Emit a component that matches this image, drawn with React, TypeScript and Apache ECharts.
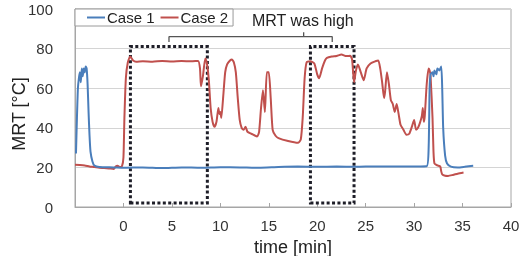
import React, { useEffect, useRef } from "react";
import * as echarts from "echarts";

const seriesNames = ["Case 1", "Case 2"];
const xTicks = [-5, 0, 5, 10, 15, 20, 25, 30, 35, 40];
const yTicks = [0, 20, 40, 60, 80, 100];

// [time (min), MRT (°C)]
const case1Points: [number, number][] = [
  [-4.9, 27], [-4.8, 45], [-4.7, 60], [-4.6, 65], [-4.5, 68], [-4.4, 63], [-4.3, 70],
  [-4.2, 66], [-4.1, 70], [-4.0, 68], [-3.9, 71], [-3.8, 70], [-3.7, 62], [-3.6, 48],
  [-3.5, 36], [-3.4, 28], [-3.2, 23], [-3.0, 21], [-2.5, 20.2], [-1, 20], [0, 19.8],
  [2, 20], [4, 19.7], [6, 20], [8, 19.8], [10, 20.1], [12, 20], [14, 19.8], [16, 20.2],
  [18, 20.4], [20, 20.3], [22, 20.4], [24, 20.3], [26, 20.5], [28, 20.4], [30, 20.5],
  [31.3, 20.6], [31.5, 30], [31.6, 60], [31.7, 67], [31.9, 68], [32.0, 66], [32.1, 69],
  [32.3, 67], [32.4, 70], [32.6, 69], [32.8, 71], [32.9, 60], [33.0, 40], [33.2, 26],
  [33.4, 22], [33.8, 20.4], [34.5, 20], [35.2, 20.3], [36.1, 20.8],
];

const case2Points: [number, number][] = [
  [-5, 21.3], [-4.5, 21.2], [-4, 21], [-3.5, 20.5], [-3, 20.2], [-2.5, 19.8], [-2, 19.7],
  [-1.5, 19.5], [-1.0, 19.2], [-0.8, 20.5], [-0.6, 20.8], [-0.4, 20.2], [-0.15, 20.6],
  [0.0, 25], [0.1, 45], [0.25, 65], [0.45, 73], [0.7, 76], [1.0, 74], [1.3, 73.4],
  [2, 73.6], [3, 73.4], [4, 73.8], [5, 73.5], [6, 73.7], [7, 73.6], [7.7, 73.8],
  [7.9, 70], [8.0, 61], [8.2, 66], [8.45, 75], [8.6, 73], [8.8, 65], [9.0, 50], [9.2, 43],
  [9.4, 40.5], [9.6, 43], [9.8, 50], [9.9, 47], [10.0, 48], [10.1, 45], [10.3, 56],
  [10.5, 68], [10.7, 72], [11.0, 74], [11.2, 74.5], [11.4, 73], [11.6, 68], [11.8, 55],
  [12.0, 44], [12.2, 40], [12.4, 39], [12.6, 40.5], [12.8, 38], [13.2, 37], [13.8, 35.6],
  [14.0, 38], [14.2, 50], [14.4, 59], [14.6, 48], [14.8, 68], [15.0, 68], [15.2, 55],
  [15.4, 39], [15.7, 36], [16.0, 34.8], [17.0, 33.3], [18.0, 32.4], [18.3, 34], [18.5, 45],
  [18.7, 65], [18.9, 73], [19.3, 73.6], [19.7, 72.5], [20.0, 67], [20.2, 65], [20.5, 70],
  [20.8, 74], [21.0, 75.3], [21.5, 76], [22.0, 76.3], [22.5, 77], [23.0, 76.2], [23.4, 76.4],
  [23.6, 74.5], [23.8, 63], [24.0, 69], [24.2, 72], [24.5, 68], [24.8, 64], [25.1, 70],
  [25.5, 72.5], [26.0, 73.6], [26.3, 74], [26.5, 70], [26.7, 63], [26.9, 55], [27.0, 58],
  [27.2, 68], [27.4, 62], [27.6, 54], [27.8, 52], [28.0, 48], [28.2, 52], [28.4, 47],
  [28.6, 41.5], [28.9, 39], [29.2, 36.5], [29.5, 37], [29.8, 41], [30.0, 44], [30.2, 39],
  [30.4, 40], [30.6, 42.5], [30.8, 46], [30.9, 50], [31.0, 43], [31.1, 46], [31.3, 62],
  [31.5, 70], [31.6, 69], [31.7, 66], [31.9, 45], [32.0, 28], [32.1, 22], [32.4, 21],
  [32.7, 20.4], [32.8, 18], [32.9, 16.5], [33.2, 15.8], [33.5, 15.7], [34.0, 16.2],
  [34.5, 16.8], [35.1, 17.4],
];

// highlighted periods: [startTime, endTime, lowMRT, highMRT]
const highlightSpans: [number, number, number, number][] = [
  [0.72, 8.66, 2, 81],
  [19.3, 23.8, 2, 81],
];

// bracket joining the two highlighted periods (data coordinates)
const bracketPoints: ([number, number] | string)[] = [
  [4.7, 83.3], [4.7, 86], [21.55, 86], [21.55, 83.3], "-", [18.6, 86], [18.6, 88.2],
];

const annotationText = "MRT was high";
const xAxisTitle = "time [min]";
const yAxisTitle = "MRT [°C]";

const FONT = "Liberation Sans, Arial, sans-serif";

export default function App() {
  const ref = useRef<HTMLDivElement>(null);
  useEffect(() => {
    if (!ref.current) return;
    const chart = echarts.init(ref.current, undefined, { renderer: "svg" });
    chart.setOption({
      animation: false,
      textStyle: { fontFamily: FONT },
      grid: {
        left: 75,
        right: 9,
        top: 9,
        bottom: 49,
        containLabel: false,
        outerBoundsMode: "none",
        show: true,
        borderColor: "#a6a6a6",
        borderWidth: 1,
        backgroundColor: "transparent",
      },
      legend: {
        data: seriesNames,
        left: 75,
        top: 9,
        padding: [1, 5, 1, 12],
        itemGap: 6,
        itemWidth: 18,
        itemHeight: 2,
        icon: "rect",
        borderColor: "#9a9a9a",
        borderWidth: 1,
        backgroundColor: "#fff",
        textStyle: { fontSize: 15, color: "#222", fontFamily: FONT, padding: [0, 0, 0, -3] },
      },
      xAxis: {
        type: "value",
        min: xTicks[0],
        max: xTicks[xTicks.length - 1],
        interval: 5,
        name: xAxisTitle,
        nameLocation: "middle",
        nameGap: 28,
        nameTextStyle: { fontSize: 18, color: "#222", fontFamily: FONT },
        axisLine: { show: true, onZero: false, lineStyle: { color: "#a6a6a6" } },
        axisTick: { show: true, inside: true, length: 4, lineStyle: { color: "#a6a6a6" } },
        splitLine: { show: false },
        axisLabel: {
          fontSize: 15,
          color: "#333",
          margin: 11,
          fontFamily: FONT,
          formatter: (v: number) => (v === xTicks[0] ? "" : String(v)),
        },
      },
      yAxis: {
        type: "value",
        min: yTicks[0],
        max: yTicks[yTicks.length - 1],
        interval: 20,
        axisLine: { show: true, onZero: false, lineStyle: { color: "#a6a6a6" } },
        axisTick: { show: false },
        splitLine: { show: true, lineStyle: { color: "#d4d4d4", width: 1 } },
        axisLabel: { fontSize: 15, color: "#333", margin: 22, fontFamily: FONT },
      },
      series: [
        {
          name: seriesNames[0],
          type: "line",
          data: case1Points,
          showSymbol: false,
          smooth: 0.2,
          lineStyle: { color: "#4a7ebb", width: 2 },
          itemStyle: { color: "#4a7ebb" },
          z: 3,
        },
        {
          name: seriesNames[1],
          type: "line",
          data: case2Points,
          showSymbol: false,
          smooth: 0.2,
          lineStyle: { color: "#c0504d", width: 2 },
          itemStyle: { color: "#c0504d" },
          z: 2,
        },
        {
          name: "bracket",
          type: "line",
          data: bracketPoints,
          showSymbol: false,
          connectNulls: false,
          lineStyle: { color: "#555", width: 1.3 },
          silent: true,
          z: 4,
        },
        {
          name: "highlight",
          type: "line",
          data: [],
          silent: true,
          z: 5,
          markArea: {
            silent: true,
            itemStyle: {
              color: "rgba(0,0,0,0)",
              borderColor: "#1e1e28",
              borderWidth: 3,
              borderType: [3, 2.4],
            },
            data: highlightSpans.map(([x0, x1, y0, y1]) => [
              { xAxis: x0, yAxis: y0 },
              { xAxis: x1, yAxis: y1 },
            ]),
          },
        },
      ],
      graphic: [
        {
          type: "text",
          left: 252,
          top: 12,
          style: { text: annotationText, fontSize: 16, fill: "#222", fontFamily: FONT },
        },
        {
          type: "text",
          x: 19,
          y: 114,
          rotation: Math.PI / 2,
          style: {
            text: yAxisTitle,
            fontSize: 18,
            fill: "#222",
            fontFamily: FONT,
            align: "center",
            verticalAlign: "middle",
          },
        },
      ],
    });
    return () => chart.dispose();
  }, []);
  return (
    <div
      ref={ref}
      style={{ position: "fixed", left: 0, top: 0, width: 520, height: 256 }}
    />
  );
}
